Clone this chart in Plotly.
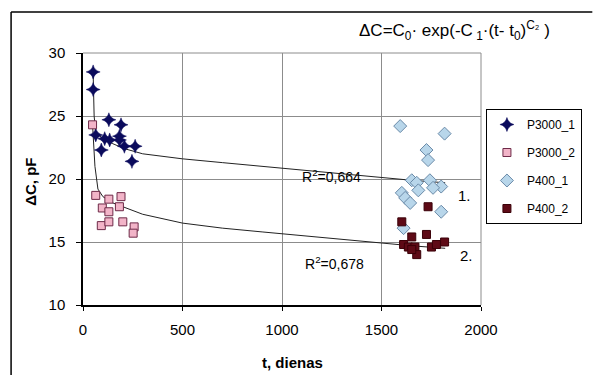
import plotly.graph_objects as go

# ---------------- data ----------------
p3000_1_t = [51, 51, 64, 92, 109, 130, 134, 183, 191, 183, 208, 262, 246]
p3000_1_v = [28.5, 27.1, 23.5, 22.3, 23.2, 24.7, 23.1, 23.4, 24.3, 23.1, 22.6, 22.6, 21.4]

p3000_2_t = [48, 64, 130, 191, 97, 130, 183, 92, 130, 200, 257, 252]
p3000_2_v = [24.3, 18.7, 18.4, 18.6, 17.7, 17.4, 17.8, 16.3, 16.6, 16.6, 16.2, 15.7]

p400_1_t = [1594, 1817, 1726, 1734, 1652, 1677, 1743, 1800, 1759, 1602, 1619, 1644, 1685, 1800, 1611]
p400_1_v = [24.2, 23.6, 22.3, 21.5, 19.9, 19.7, 19.9, 19.4, 19.3, 18.9, 18.5, 18.1, 19.1, 17.4, 16.1]

p400_2_t = [1734, 1602, 1652, 1726, 1611, 1635, 1668, 1677, 1751, 1776, 1817, 1652]
p400_2_v = [17.8, 16.6, 15.4, 15.6, 14.8, 14.6, 14.6, 14.0, 14.6, 14.8, 15.0, 14.4]

fit1_t = [51, 56, 64, 100, 150, 210, 300, 500, 700, 900, 1100, 1300, 1500, 1650, 1820]
fit1_v = [28.4, 25.0, 23.7, 23.2, 22.8, 22.4, 22.0, 21.6, 21.3, 21.0, 20.7, 20.4, 20.1, 19.9, 19.7]

fit2_t = [48, 60, 75, 100, 150, 216, 300, 500, 700, 900, 1100, 1300, 1500, 1650, 1820]
fit2_v = [24.3, 21.0, 19.2, 18.6, 18.1, 17.7, 17.2, 16.5, 16.1, 15.8, 15.5, 15.2, 14.9, 14.7, 14.5]

x_ticks = [0, 500, 1000, 1500, 2000]
y_ticks = [10, 15, 20, 25, 30]

r2_labels = ["R<sup>2</sup>=0,664", "R<sup>2</sup>=0,678"]
curve_labels = ["1.", "2."]
formula = "ΔC=C<sub>0</sub>· exp(-C<sub> 1</sub>·(t- t<sub>0</sub>)<sup>C₂</sup> )"

FONT = "Liberation Sans, Arial, sans-serif"

# ---------------- figure ----------------
fig = go.Figure()

fig.add_trace(go.Scatter(x=fit1_t, y=fit1_v, mode="lines", line=dict(color="#222222", width=1),
                         showlegend=False, hoverinfo="skip"))
fig.add_trace(go.Scatter(x=fit2_t, y=fit2_v, mode="lines", line=dict(color="#222222", width=1),
                         showlegend=False, hoverinfo="skip"))

fig.add_trace(go.Scatter(x=p3000_1_t, y=p3000_1_v, mode="markers", name="P3000_1", legendgroup="a",
                         marker=dict(symbol="star-diamond", size=10, color="#0b0b5c",
                                     line=dict(color="#0b0b5c", width=0.5))))
fig.add_trace(go.Scatter(x=p3000_2_t, y=p3000_2_v, mode="markers", name="P3000_2", legendgroup="b",
                         marker=dict(symbol="square", size=8, color="#f2b4c8",
                                     line=dict(color="#6e2a48", width=1))))
fig.add_trace(go.Scatter(x=p400_1_t, y=p400_1_v, mode="markers", name="P400_1", legendgroup="c",
                         marker=dict(symbol="diamond", size=10, color="#b8d6ea",
                                     line=dict(color="#6a8aa8", width=1))))
fig.add_trace(go.Scatter(x=p400_2_t, y=p400_2_v, mode="markers", name="P400_2", legendgroup="d",
                         marker=dict(symbol="square", size=8, color="#5e0a16",
                                     line=dict(color="#3a0008", width=1))))

L, R, T, B = 83, 107, 53, 70
W, H = 594, 375
pw, ph = W - L - R, H - T - B


def px(xp):
    return (xp - L) / pw


def py(yp):
    return (H - B - yp) / ph


annotations = [
    dict(x=1248, y=20.2, xref="x", yref="y", text=r2_labels[0], showarrow=False,
         xanchor="center", yanchor="middle", font=dict(size=14, color="black", family=FONT)),
    dict(x=1262, y=13.3, xref="x", yref="y", text=r2_labels[1], showarrow=False,
         xanchor="center", yanchor="middle", font=dict(size=14, color="black", family=FONT)),
    dict(x=1918, y=18.7, xref="x", yref="y", text=curve_labels[0], showarrow=False,
         xanchor="center", yanchor="middle", font=dict(size=15, color="black", family=FONT)),
    dict(x=1925, y=13.9, xref="x", yref="y", text=curve_labels[1], showarrow=False,
         xanchor="center", yanchor="middle", font=dict(size=15, color="black", family=FONT)),
    dict(x=px(460), y=py(30), xref="paper", yref="paper", text=formula, showarrow=False,
         xanchor="center", yanchor="middle", font=dict(size=17, color="black", family=FONT)),
    dict(x=px(296), y=py(362), xref="paper", yref="paper", text="<b>t, dienas</b>", showarrow=False,
         xanchor="center", yanchor="middle", font=dict(size=15, color="black", family=FONT)),
    dict(x=px(29), y=py(182), xref="paper", yref="paper", text="<b>ΔC, pF</b>", showarrow=False,
         xanchor="center", yanchor="middle",
         textangle=-90, font=dict(size=15, color="black", family=FONT)),
]

shapes = [
    # outer frame (left and top edges; others beyond the picture)
    dict(type="line", xref="paper", yref="paper", x0=px(10), x1=px(600), y0=py(12), y1=py(12),
         line=dict(color="black", width=1.5)),
    dict(type="line", xref="paper", yref="paper", x0=px(10), x1=px(10), y0=py(380), y1=py(12),
         line=dict(color="black", width=1.5)),
    # plot-area top and right edges (gray like the grid)
    dict(type="line", xref="paper", yref="paper", x0=0, x1=1, y0=1, y1=1,
         line=dict(color="#8c8c8c", width=1)),
    dict(type="line", xref="paper", yref="paper", x0=1, x1=1, y0=0, y1=1,
         line=dict(color="#8c8c8c", width=1)),
]

fig.update_layout(
    width=W, height=H,
    margin=dict(l=L, r=R, t=T, b=B),
    paper_bgcolor="white", plot_bgcolor="white",
    font=dict(family=FONT, size=14, color="black"),
    showlegend=True,
    legend=dict(x=px(492), y=py(109), xanchor="left", yanchor="top",
                bordercolor="black", borderwidth=1, bgcolor="white",
                font=dict(size=12, family=FONT, color="black"),
                tracegroupgap=9, itemwidth=30),
    annotations=annotations,
    shapes=shapes,
)

fig.update_xaxes(range=[0, 2000], tickvals=x_ticks, ticktext=[str(v) for v in x_ticks],
                 showgrid=True, gridcolor="#8c8c8c", gridwidth=1,
                 showline=True, linecolor="black", linewidth=1.5,
                 ticks="outside", ticklen=4, tickcolor="black",
                 ticklabelstandoff=6, zeroline=False,
                 tickfont=dict(size=15, family=FONT, color="black"))
fig.update_yaxes(range=[10, 30], tickvals=y_ticks, ticktext=[str(v) for v in y_ticks],
                 showgrid=True, gridcolor="#8c8c8c", gridwidth=1,
                 showline=True, linecolor="black", linewidth=1.5,
                 ticks="outside", ticklen=5, tickcolor="black",
                 ticklabelstandoff=8, zeroline=False,
                 tickfont=dict(size=15, family=FONT, color="black"))

fig.write_html("out.html", config={"displayModeBar": False},
               post_script="document.body.style.margin='0';document.body.style.overflow='hidden';")
